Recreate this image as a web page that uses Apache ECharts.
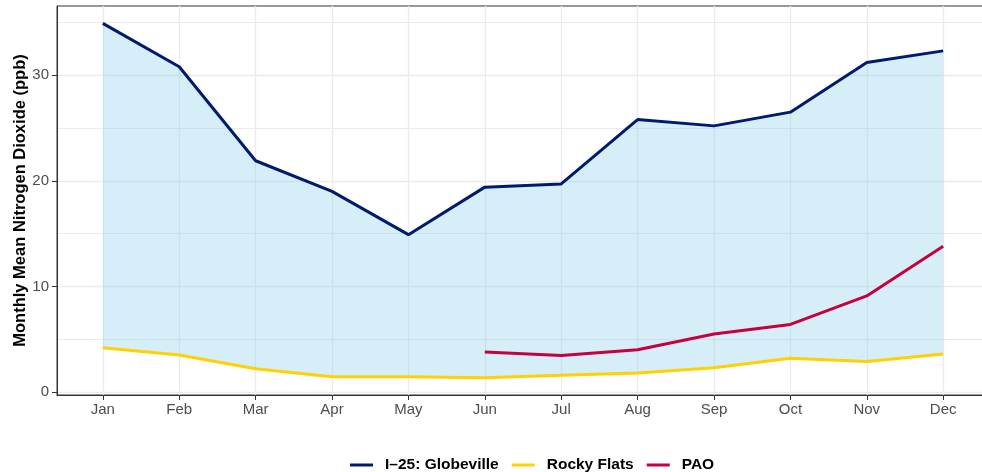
<!DOCTYPE html>
<html>
<head>
<meta charset="utf-8">
<script src="https://cdn.jsdelivr.net/npm/echarts@6/dist/echarts.min.js"></script>
<style>
  html, body { margin: 0; padding: 0; background: #fff; }
  #chart { width: 982px; height: 472px; }
</style>
</head>
<body>
<div id="chart"></div>
<script>
var months = ['Jan', 'Feb', 'Mar', 'Apr', 'May', 'Jun', 'Jul', 'Aug', 'Sep', 'Oct', 'Nov', 'Dec']
var globeville = [34.9, 30.8, 21.9, 19.0, 14.9, 19.4, 19.7, 25.8, 25.2, 26.5, 31.2, 32.3]
var rocky_flats = [4.2, 3.5, 2.2, 1.45, 1.45, 1.35, 1.6, 1.8, 2.3, 3.2, 2.9, 3.6]
var pao = [null, null, null, null, null, 3.8, 3.45, 4.0, 5.5, 6.4, 9.1, 13.8]
var y_ticks = [0, 10, 20, 30]
var y_minor = [5, 15, 25, 35]

function pairs(values)
{
    var out = []
    for (var i = 0; i < values.length; i++) {
        if (values[i] !== null)
            out.push([i, values[i]])
    }
    return out
}

// band between Rocky Flats (low) and Globeville (high)
var band = []
for (var i = 0; i < months.length; i++) {
    band.push([i, rocky_flats[i], globeville[i]])
}

function render_band(params, api)
{
    if (params.dataIndex !== 0) return null
    var pts = []
    for (var i = 0; i < band.length; i++)
        pts.push(api.coord([band[i][0], band[i][2]]))
    for (var j = band.length - 1; j >= 0; j--)
        pts.push(api.coord([band[j][0], band[j][1]]))
    return {
        type: 'polygon',
        shape: { points: pts },
        style: { fill: 'rgba(135,206,235,0.35)' }
    }
}

var month_idx = months.map(function (m, i) { return i })
var grid_color = '#ebebeb'
var font = 'Liberation Sans, Arial, sans-serif'

var chart = echarts.init(document.getElementById('chart'))

var option = {
    animation: false,
    grid: {
        left: 57, top: 6, width: 932, height: 389,
        outerBoundsMode: 'none', containLabel: false,
        show: true, borderColor: '#333', borderWidth: 1, backgroundColor: 'transparent'
    },
    legend: {
        left: 345, top: 452,
        itemWidth: 23, itemHeight: 3, itemGap: 13,
        icon: 'rect',
        textStyle: { color: '#000', fontWeight: 'bold', fontSize: 15.5, fontFamily: font, padding: [0, 0, 0, 7] },
        data: ['I\u201325: Globeville', 'Rocky Flats', 'PAO']
    },
    xAxis: {
        type: 'value',
        min: -0.6, max: 11.6,
        axisLine: { show: true, onZero: false, lineStyle: { color: '#333', width: 1 } },
        axisTick: { show: true, length: 5, customValues: month_idx, lineStyle: { color: '#333' } },
        axisLabel: {
            customValues: month_idx, color: '#4d4d4d', fontSize: 15, fontFamily: font, margin: 7,
            formatter: function (v) { return months[Math.round(v)] }
        },
        splitLine: { show: true, lineStyle: { color: grid_color, width: 1.3 } }
    },
    yAxis: [
        {
            type: 'value',
            min: -0.28, max: 36.55,
            name: 'Monthly Mean Nitrogen Dioxide (ppb)',
            nameLocation: 'middle', nameGap: 28, nameMoveOverlap: false,
            nameTextStyle: { color: '#000', fontWeight: 'bold', fontSize: 16.5, fontFamily: font },
            axisLine: { show: true, onZero: false, lineStyle: { color: '#333', width: 1 } },
            axisTick: { show: true, length: 5, customValues: y_ticks, lineStyle: { color: '#333' } },
            axisLabel: { customValues: y_ticks, color: '#4d4d4d', fontSize: 15, fontFamily: font, margin: 8 },
            splitLine: { show: true, lineStyle: { color: grid_color, width: 1.3 } }
        },
        {
            type: 'value',
            min: -0.28, max: 36.55,
            position: 'left',
            axisLine: { show: false },
            axisTick: { show: false, customValues: y_minor },
            axisLabel: { show: false, customValues: y_minor },
            splitLine: { show: true, lineStyle: { color: grid_color, width: 1 } }
        }
    ],
    series: [
        {
            name: 'band', type: 'custom', silent: true,
            renderItem: render_band,
            clip: true,
            encode: { x: 0, y: [1, 2] },
            data: band
        },
        {
            name: 'I\u201325: Globeville', type: 'line', symbol: 'none',
            color: '#001a6e',
            lineStyle: { width: 3, color: '#001a6e' },
            data: pairs(globeville)
        },
        {
            name: 'Rocky Flats', type: 'line', symbol: 'none',
            color: '#ffd100',
            lineStyle: { width: 3, color: '#ffd100' },
            data: pairs(rocky_flats)
        },
        {
            name: 'PAO', type: 'line', symbol: 'none',
            color: '#c8003c',
            lineStyle: { width: 3, color: '#c8003c' },
            data: pairs(pao)
        }
    ]
}
chart.setOption(option)
</script>
</body>
</html>
